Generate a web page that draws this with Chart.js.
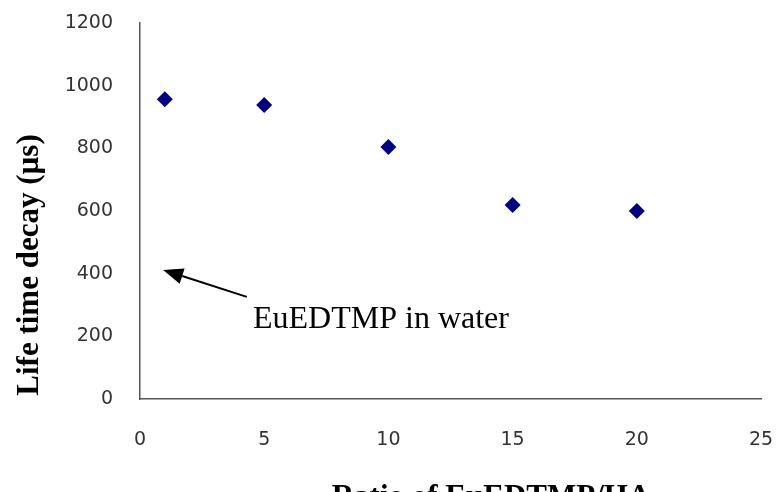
<!DOCTYPE html>
<html>
<head>
<meta charset="utf-8">
<script src="https://cdn.jsdelivr.net/npm/chart.js@4"></script>
<style>
  html, body { margin: 0; padding: 0; background: #fff; overflow: hidden; }
  #wrap { width: 776px; height: 492px; }
</style>
</head>
<body>
<div id="wrap"><canvas id="chart" width="776" height="492"></canvas></div>
<script>
// ratio EuEDTMP/HA vs lifetime decay
const ratios = [1, 5, 10, 15, 20];
const lifetimes = [957, 938, 804, 619, 600];
const xTicks = [0, 5, 10, 15, 20, 25];
const yTicks = [0, 200, 400, 600, 800, 1000, 1200];

const yTitle = "Life time decay (µs)";
const xTitle = "Ratio of EuEDTMP/HA";
const noteText = "EuEDTMP in water";
// arrow tip, arrow tail and note position in data units
const noteTip = [0.93, 412];
const noteTail = [4.3, 326];
const noteAt = [4.55, 226];

const points = ratios.map((x, i) => ({ x: x, y: lifetimes[i] }));

const extras = {
  id: "extras",
  afterDraw(chart) {
    const ctx = chart.ctx;
    const xs = chart.scales.x, ys = chart.scales.y;
    ctx.save();

    // arrow
    const tx = xs.getPixelForValue(noteTip[0]), ty = ys.getPixelForValue(noteTip[1]);
    const fx = xs.getPixelForValue(noteTail[0]), fy = ys.getPixelForValue(noteTail[1]);
    const ang = Math.atan2(ty - fy, tx - fx);
    const headLen = 20, headW = 8;
    const bx = tx - headLen * Math.cos(ang), by = ty - headLen * Math.sin(ang);
    ctx.strokeStyle = "#000";
    ctx.lineWidth = 2;
    ctx.beginPath();
    ctx.moveTo(fx, fy);
    ctx.lineTo(bx, by);
    ctx.stroke();
    ctx.fillStyle = "#000";
    ctx.beginPath();
    ctx.moveTo(tx, ty);
    ctx.lineTo(bx + headW * Math.sin(ang), by - headW * Math.cos(ang));
    ctx.lineTo(bx - headW * Math.sin(ang), by + headW * Math.cos(ang));
    ctx.closePath();
    ctx.fill();

    // note
    ctx.font = "32px 'Liberation Serif', 'Times New Roman', serif";
    ctx.textAlign = "left";
    ctx.textBaseline = "alphabetic";
    ctx.fillText(noteText, xs.getPixelForValue(noteAt[0]), ys.getPixelForValue(noteAt[1]));

    // axis titles
    ctx.font = "bold 31px 'Liberation Serif', 'Times New Roman', serif";
    ctx.textAlign = "center";
    ctx.textBaseline = "alphabetic";
    ctx.fillText(xTitle, 491, 506);
    ctx.translate(38, 265);
    ctx.rotate(-Math.PI / 2);
    ctx.fillText(yTitle, 0, 0);
    ctx.restore();
  }
};

const tickFont = { family: "'DejaVu Sans', Verdana, sans-serif", size: 19 };

new Chart(document.getElementById("chart"), {
  type: "scatter",
  data: {
    datasets: [{
      data: points,
      pointStyle: "rectRot",
      pointRadius: 8,
      pointHoverRadius: 8,
      pointBorderWidth: 0,
      backgroundColor: "#000080",
      borderColor: "#000080"
    }]
  },
  options: {
    responsive: false,
    animation: false,
    layout: { padding: { top: 23, right: 15, left: 0, bottom: 0 } },
    plugins: { legend: { display: false }, tooltip: { enabled: false } },
    scales: {
      x: {
        type: "linear",
        min: 0, max: 25,
        afterBuildTicks: (s) => { s.ticks = xTicks.map(v => ({ value: v })); },
        afterFit: (s) => { s.height = 93; s.paddingLeft = 0; s.paddingRight = 0; },
        grid: { display: false, drawTicks: false },
        border: { display: true, color: "#555", width: 1.5 },
        ticks: { padding: 30, color: "#333", font: tickFont, callback: (v) => String(v) }
      },
      y: {
        type: "linear",
        min: 0, max: 1200,
        afterBuildTicks: (s) => { s.ticks = yTicks.map(v => ({ value: v })); },
        afterFit: (s) => { s.width = 140; s.paddingTop = 0; s.paddingBottom = 0; },
        grid: { display: false, drawTicks: false },
        border: { display: true, color: "#555", width: 1.5 },
        ticks: { padding: 27, color: "#333", font: tickFont, callback: (v) => String(v) }
      }
    }
  },
  plugins: [extras]
});
</script>
</body>
</html>
